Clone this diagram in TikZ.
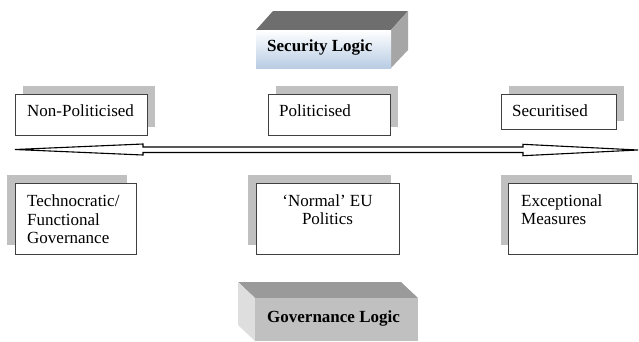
\documentclass[tikz,border=0pt]{standalone}
\usepackage{fontspec}
\setmainfont{Liberation Serif}
\definecolor{shadowgray}{HTML}{C0C0C0}
\definecolor{framegray}{HTML}{404040}
\definecolor{secblue}{HTML}{B8CCE4}
\definecolor{sectop}{HTML}{6E6E6E}
\definecolor{secside}{HTML}{A6A6A6}
\definecolor{govfront}{HTML}{C0C0C0}
\definecolor{govtop}{HTML}{9A9A9A}
\definecolor{govside}{HTML}{DEDEDE}
\tikzset{
  shadowbox/.style={fill=shadowgray, draw=none, inner sep=0pt, anchor=north west},
  framebox/.style={fill=white, draw=framegray, line width=1pt, inner sep=0pt, anchor=north west},
  lbl/.style={font=\fontsize{17}{18.3}\selectfont, inner sep=0pt, align=left},
  boldlbl/.style={font=\fontsize{17}{18.3}\selectfont\bfseries, inner sep=0pt},
  arrowshape/.style={draw=black, line width=1.1pt, fill=white, line join=miter}
}
\begin{document}
\begin{tikzpicture}[x=1pt,y=-1pt]
\useasboundingbox (0,0) rectangle (639,341);

% Security Logic 3D box
\fill[sectop] (256,30) -- (273,11) -- (408,11) -- (391,30) -- cycle;
\fill[secside] (391,30) -- (408,11) -- (408,50) -- (391,68) -- cycle;
\shade[top color=white, bottom color=secblue] (256,30) rectangle (391,68);
\node[boldlbl, anchor=base west] (seclbl) at (267,51) {Security Logic};

% Top row boxes
\node[shadowbox, minimum width=132pt, minimum height=41pt] (npsh) at (23,86) {};
\node[framebox, minimum width=132pt, minimum height=41pt] (npbox) at (15,94) {};
\node[lbl, anchor=base west] (nplbl) at (27,116) {Non-Politicised};

\node[shadowbox, minimum width=122pt, minimum height=41pt] (posh) at (276,86) {};
\node[framebox, minimum width=122pt, minimum height=41pt] (pobox) at (268,94) {};
\node[lbl, anchor=base west] (polbl) at (279,116) {Politicised};

\node[shadowbox, minimum width=115pt, minimum height=35pt] (sesh) at (509,86) {};
\node[framebox, minimum width=115pt, minimum height=35pt] (sebox) at (501,94) {};
\node[lbl, anchor=base west] (selbl) at (512,116) {Securitised};

% Double-headed hollow arrow
\coordinate (lefttip) at (15,149.5);
\coordinate (righttip) at (638,150);
\draw[arrowshape] (lefttip) -- (143,144) -- (143,147) -- (523,147) -- (523,144.3)
  -- (righttip) -- (523,155.7) -- (523,152.5) -- (143,152.5) -- (143,155) -- cycle;

% Bottom row boxes
\node[shadowbox, minimum width=120pt, minimum height=70pt] (tcsh) at (7,175) {};
\node[framebox, minimum width=121pt, minimum height=71pt] (tcbox) at (15,183) {};
\node[lbl, anchor=base west] (tclbl) at (27,243.3) {Technocratic/\\Functional\\Governance};

\node[shadowbox, minimum width=143pt, minimum height=70pt] (nesh) at (248,175) {};
\node[framebox, minimum width=143pt, minimum height=71pt] (nebox) at (256,183) {};
\node[lbl, align=center, anchor=base] (nelbl) at (327.5,224.8) {`Normal' EU\\Politics};

\node[shadowbox, minimum width=131pt, minimum height=70pt] (exsh) at (501,175) {};
\node[framebox, minimum width=129pt, minimum height=71pt] (exbox) at (508,183) {};
\node[lbl, anchor=base west] (exlbl) at (521,224.8) {Exceptional\\Measures};

% Governance Logic 3D box
\fill[govtop] (238,282) -- (401,282) -- (418,298) -- (255,298) -- cycle;
\fill[govside] (238,282) -- (255,298) -- (255,341) -- (238,325) -- cycle;
\fill[govfront] (255,298) rectangle (418,341);
\node[boldlbl, anchor=base west] (govlbl) at (267,322) {Governance Logic};
\end{tikzpicture}
\end{document}
